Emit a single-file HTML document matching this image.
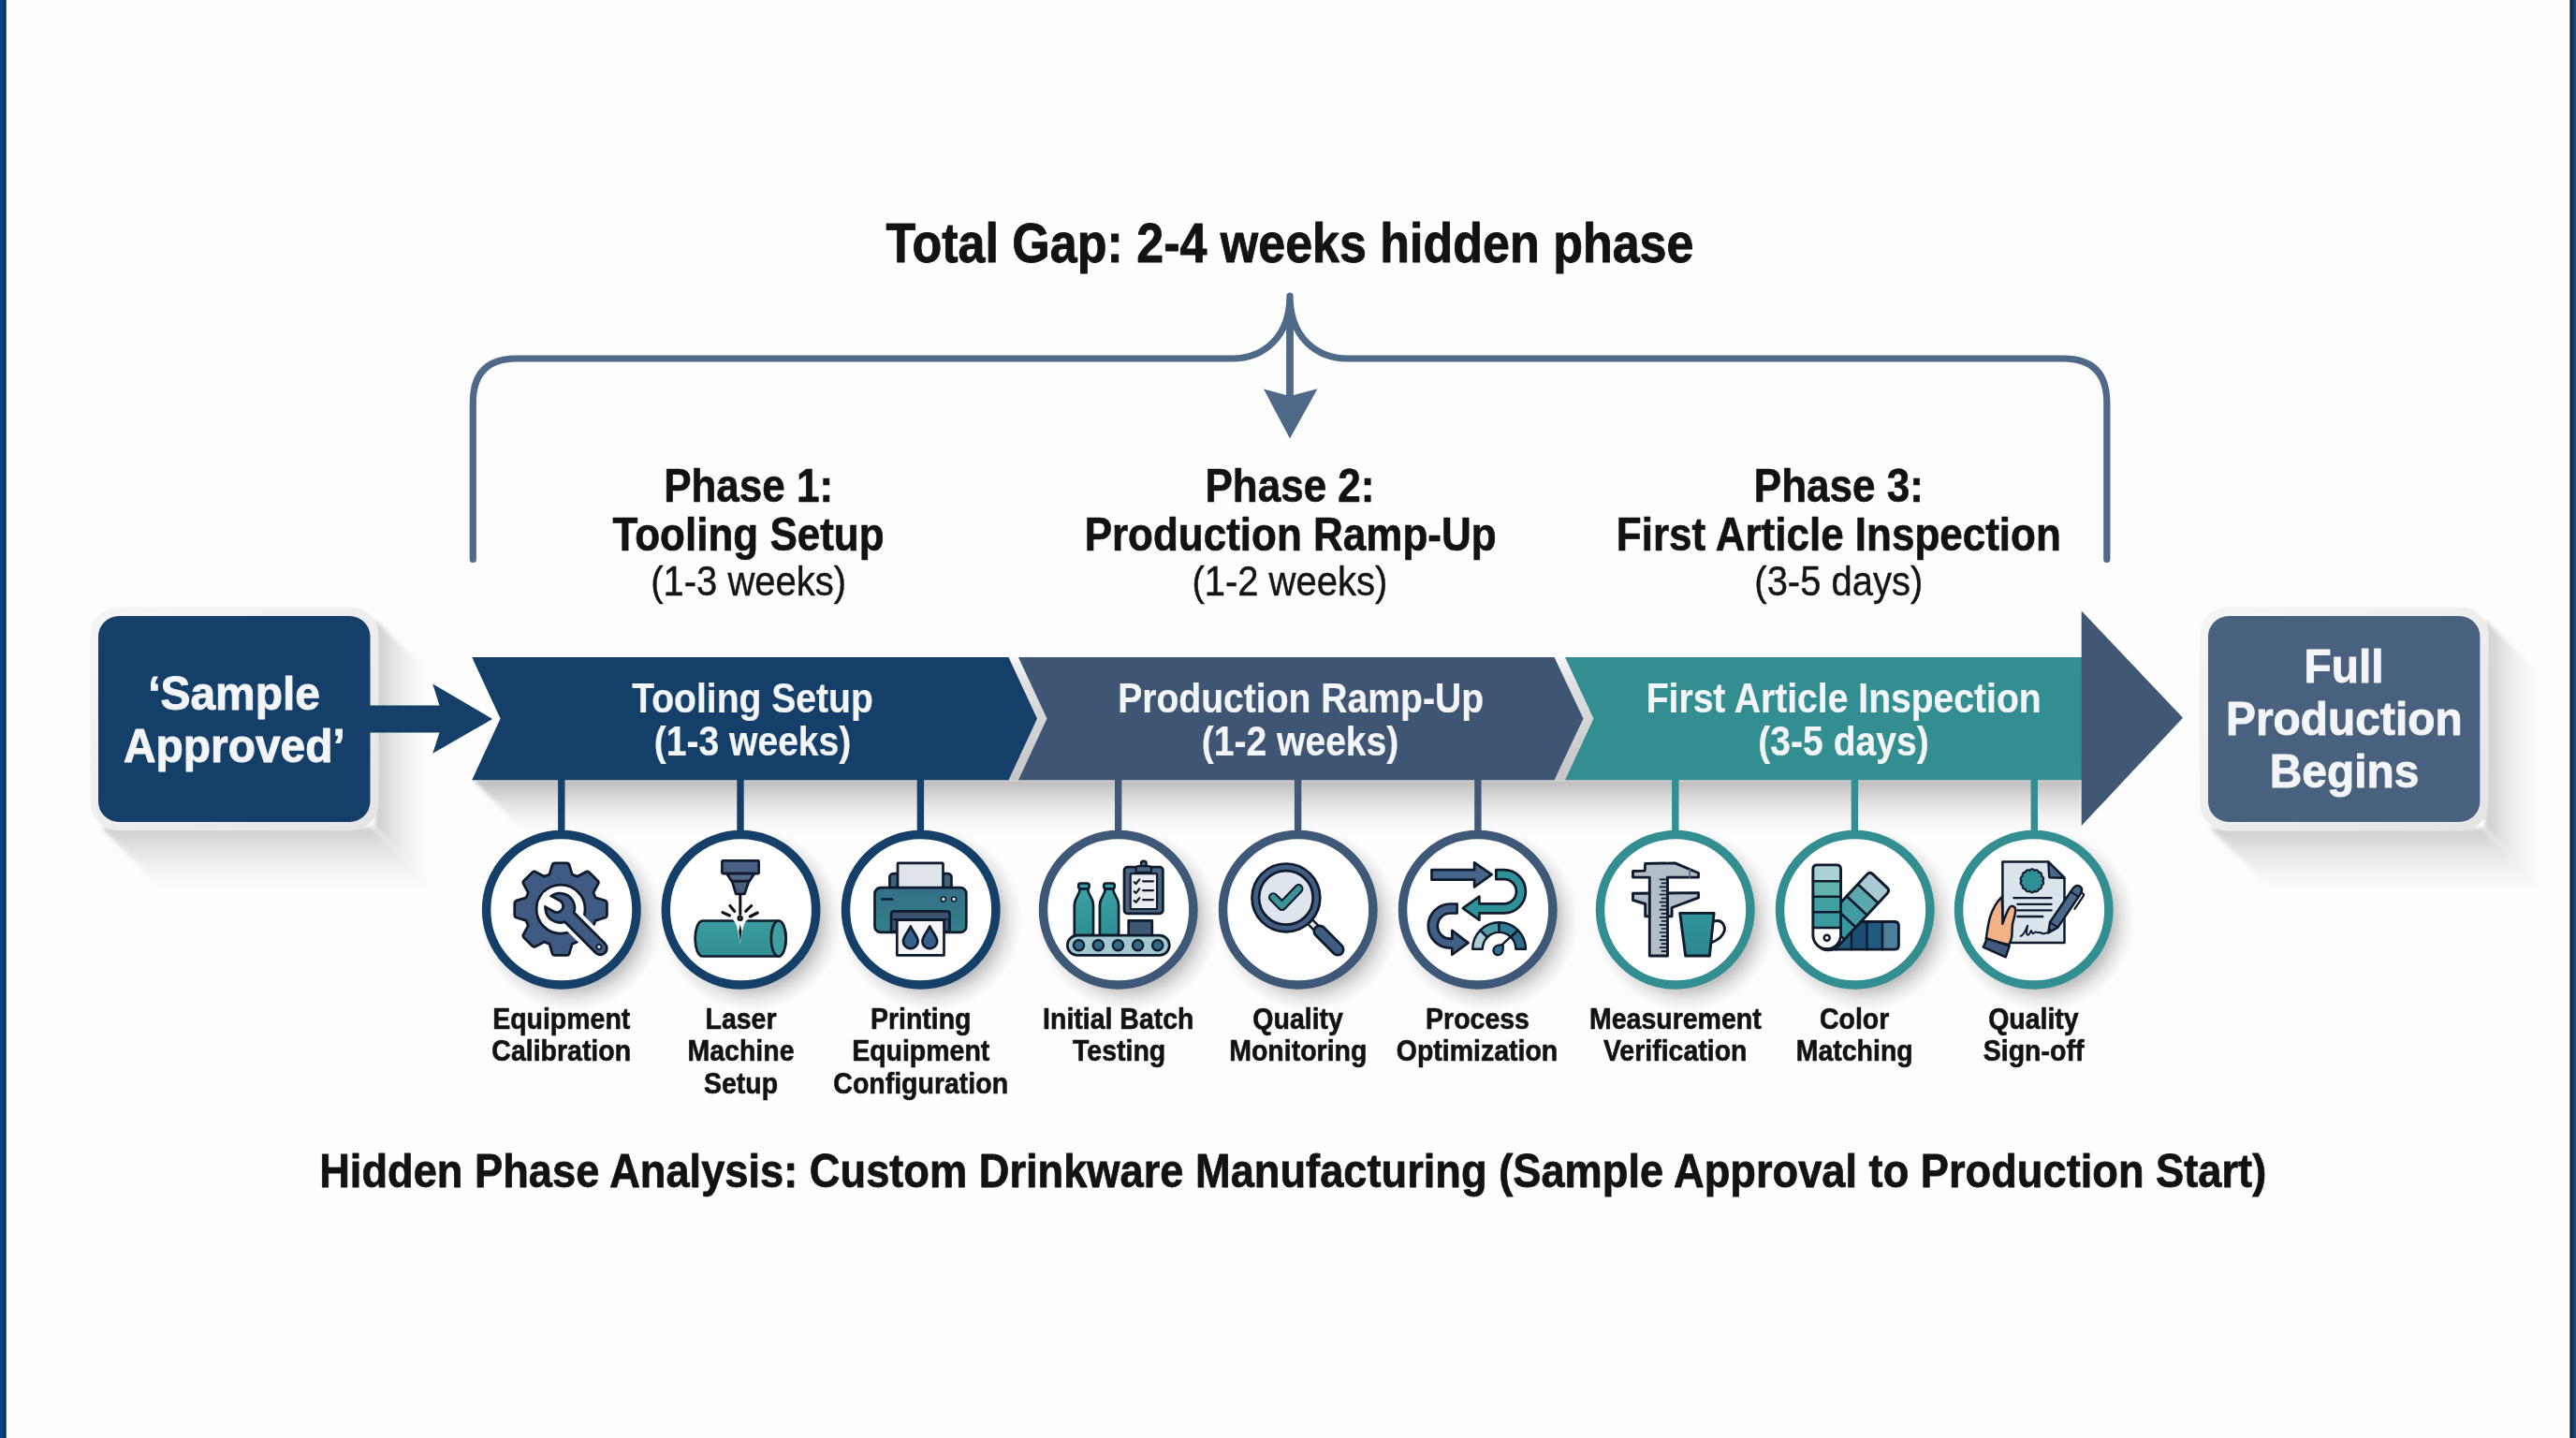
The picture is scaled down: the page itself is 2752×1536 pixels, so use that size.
<!DOCTYPE html>
<html lang="en">
<head>
<meta charset="utf-8">
<title>Hidden Phase Analysis: Custom Drinkware Manufacturing</title>
<style>
html,body{margin:0;padding:0;background:#fdfdfd;}
body{width:2752px;height:1536px;overflow:hidden;position:relative;}
svg{position:absolute;left:0;top:0;display:block;}
text{font-family:"Liberation Sans",Arial,Helvetica,sans-serif;text-anchor:middle;stroke-linejoin:round;}
#title,#phases,#labels,#caption,#leftbox,#rightbox,#chevrons{opacity:0.999;}
.bd{font-weight:700;fill:#121212;stroke:#121212;}
.rd{font-weight:400;fill:#141414;stroke:#141414;}
.bw{font-weight:700;fill:#f3f5f8;stroke:#f3f5f8;}
</style>
</head>
<body>
<svg width="2752" height="1536" viewBox="0 0 2752 1536">
<defs>
  <linearGradient id="gStripL" x1="0" x2="1" y1="0" y2="0">
    <stop offset="0" stop-color="#0a4a86"/><stop offset="0.55" stop-color="#0b3f78"/><stop offset="0.85" stop-color="#0c2a4c"/><stop offset="1" stop-color="#34506f"/>
  </linearGradient>
  <linearGradient id="gStripR" x1="0" x2="1" y1="0" y2="0">
    <stop offset="0" stop-color="#4a6483"/><stop offset="0.2" stop-color="#0b2748"/><stop offset="0.6" stop-color="#123c6b"/><stop offset="1" stop-color="#265583"/>
  </linearGradient>
  <filter id="blur2" x="-20%" y="-20%" width="140%" height="140%"><feGaussianBlur stdDeviation="2"/></filter>
  <filter id="blur4" x="-20%" y="-20%" width="140%" height="140%"><feGaussianBlur stdDeviation="4"/></filter>
  <filter id="blur8" x="-30%" y="-30%" width="160%" height="160%"><feGaussianBlur stdDeviation="8"/></filter>
</defs>

<!-- background -->
<rect x="0" y="0" width="2752" height="1536" fill="#fdfdfd"/>
<rect x="0" y="0" width="6.8" height="1536" fill="url(#gStripL)"/>
<rect x="2745.2" y="0" width="6.8" height="1536" fill="url(#gStripR)"/>

<!-- title -->
<g id="title">
<text transform="matrix(1 0 0 1.13 1378 279.5)" class="bd" font-size="52" stroke-width="0.8">Total Gap: 2-4 weeks hidden phase</text>
</g>

<!-- brace -->
<g id="brace" fill="none" stroke="#4e6a88" stroke-width="7.2" stroke-linecap="round" stroke-linejoin="round">
  <path d="M505.3 597.5 V430 Q505.3 383 552 383 H1316 C1350 383 1378 360 1378 316 C1378 360 1406 383 1440 383 H2204 Q2250.8 383 2250.8 430 V597.5"/>
  <path d="M1378 330 V424" stroke-linecap="butt" stroke-width="7.8"/>
  <path d="M1350 415.4 L1374 422 L1382 422 L1407.5 415.2 L1378 468.6 Z" fill="#4e6a88" stroke="none"/>
</g>

<!-- phase headings -->
<g id="phases">
  <text transform="matrix(1 0 0 1.13 799.6 536.3)" class="bd" font-size="44" stroke-width="0.6">Phase 1:</text>
  <text transform="matrix(1 0 0 1.13 799.6 587.9)" class="bd" font-size="44" stroke-width="0.6">Tooling Setup</text>
  <text transform="matrix(1 0 0 1.13 799.6 636.3)" class="rd" font-size="40" stroke-width="0.4">(1-3 weeks)</text>
  <text transform="matrix(1 0 0 1.13 1378 536.3)" class="bd" font-size="44" stroke-width="0.6">Phase 2:</text>
  <text transform="matrix(1 0 0 1.13 1378.6 587.9)" class="bd" font-size="44" stroke-width="0.6">Production Ramp-Up</text>
  <text transform="matrix(1 0 0 1.13 1377.8 636.3)" class="rd" font-size="40" stroke-width="0.4">(1-2 weeks)</text>
  <text transform="matrix(1 0 0 1.13 1964.3 536.3)" class="bd" font-size="44" stroke-width="0.6">Phase 3:</text>
  <text transform="matrix(1 0 0 1.13 1964.3 587.9)" class="bd" font-size="44" stroke-width="0.6">First Article Inspection</text>
  <text transform="matrix(1 0 0 1.13 1964.3 636.3)" class="rd" font-size="40" stroke-width="0.4">(3-5 days)</text>
</g>

<!-- SHADOWS -->
<defs>
  <linearGradient id="shV" x1="0" y1="0" x2="0" y2="1">
    <stop offset="0" stop-color="#000" stop-opacity="0.185"/><stop offset="0.5" stop-color="#000" stop-opacity="0.07"/><stop offset="1" stop-color="#000" stop-opacity="0"/>
  </linearGradient>
  <linearGradient id="shH" x1="0" y1="0" x2="1" y2="0">
    <stop offset="0" stop-color="#000" stop-opacity="0.185"/><stop offset="0.5" stop-color="#000" stop-opacity="0.07"/><stop offset="1" stop-color="#000" stop-opacity="0"/>
  </linearGradient>
  <linearGradient id="shBand" x1="0" y1="0" x2="0" y2="1">
    <stop offset="0" stop-color="#000" stop-opacity="0.27"/><stop offset="0.2" stop-color="#000" stop-opacity="0.185"/><stop offset="0.5" stop-color="#000" stop-opacity="0.085"/><stop offset="0.8" stop-color="#000" stop-opacity="0.02"/><stop offset="1" stop-color="#000" stop-opacity="0"/>
  </linearGradient>
  <radialGradient id="shCirc" cx="0.5" cy="0.5" r="0.5">
    <stop offset="0" stop-color="#000" stop-opacity="0.26"/><stop offset="0.74" stop-color="#000" stop-opacity="0.24"/><stop offset="0.87" stop-color="#000" stop-opacity="0.09"/><stop offset="1" stop-color="#000" stop-opacity="0"/>
  </radialGradient>
</defs>
<g id="shadows">
  <!-- left box long shadow -->
  <g filter="url(#blur2)">
    <path d="M108 884 H398 L462 948 H172 Z" fill="url(#shV)"/>
    <path d="M401 662 L455 716 V941 L401 884 Z" fill="url(#shH)"/>
  </g>
  <!-- right box long shadow -->
  <g filter="url(#blur2)">
    <path d="M2361 884.5 H2652 L2716 948.5 H2425 Z" fill="url(#shV)"/>
    <path d="M2655 662 L2709 716 V941.5 L2655 884.5 Z" fill="url(#shH)"/>
  </g>
  <!-- band shadow under chevrons -->
  <g filter="url(#blur2)">
    <path d="M505 832.5 H2224 V892 H564 Z" fill="url(#shBand)"/>
  </g>
  <!-- circle shadows -->
  <g fill="url(#shCirc)">
    <circle cx="610.3" cy="982.3" r="97"/>
    <circle cx="802.0" cy="982.3" r="97"/>
    <circle cx="994.2" cy="982.3" r="97"/>
    <circle cx="1205.2" cy="982.3" r="97"/>
    <circle cx="1397.2" cy="982.3" r="97"/>
    <circle cx="1589.2" cy="982.3" r="97"/>
    <circle cx="1800.2" cy="982.3" r="97"/>
    <circle cx="1992.2" cy="982.3" r="97"/>
    <circle cx="2183.2" cy="982.3" r="97"/>
  </g>
</g>

<!-- left box -->
<defs><linearGradient id="gBorder" x1="0" y1="0" x2="1" y2="1"><stop offset="0" stop-color="#f5f5f5"/><stop offset="0.5" stop-color="#eeeeee"/><stop offset="1" stop-color="#e4e4e4"/></linearGradient></defs>
<g id="leftbox">
  <rect x="96.5" y="648.5" width="308" height="238.5" rx="30" fill="url(#gBorder)"/>
  <rect x="105" y="658" width="290.5" height="220" rx="22" fill="#133f69"/>
  <path d="M393 753.5 H469.4 L462.3 730.6 L526.2 768 L462.3 804.7 L469.4 782.4 H393 Z" fill="#133f69"/>
  <text transform="matrix(1 0 0 1.04 250 757.6)" class="bw" font-size="47.9" stroke-width="0.9">‘Sample</text>
  <text transform="matrix(1 0 0 1.04 250.3 813.6)" class="bw" font-size="47.9" stroke-width="0.9">Approved’</text>
</g>

<!-- chevrons -->
<g id="chevrons">
  <defs><linearGradient id="gGap" x1="0" y1="0" x2="0" y2="1"><stop offset="0" stop-color="#f6f6f6"/><stop offset="0.2" stop-color="#e2e2e3"/><stop offset="0.6" stop-color="#d2d2d3"/><stop offset="1" stop-color="#c6c6c7"/></linearGradient></defs>
  <path d="M1076.5 702 H1089 L1119.5 767.6 L1089 833.3 H1076.5 L1107 767.6 Z" fill="url(#gGap)"/>
  <path d="M1659.5 702 H1673 L1703.5 767.6 L1673 833.3 H1659.5 L1690.5 767.6 Z" fill="url(#gGap)"/>
  <path d="M504.2 702 H1077.5 L1108 767.6 L1077.5 833.3 H504.2 L534.6 767.6 Z" fill="#133f69"/>
  <path d="M1088 702 H1660.5 L1691.5 767.6 L1660.5 833.3 H1088 L1118.5 767.6 Z" fill="#3e5674"/>
  <path d="M1672 702 H2224.5 V833.3 H1672 L1702.5 767.6 Z" fill="#328e90"/>
  <path d="M2223.7 652.5 L2332 766.7 L2223.7 882 Z" fill="#405873"/>
  <text transform="matrix(1 0 0 1.14 804 760.5)" class="bw" font-size="39.1" stroke-width="0.2">Tooling Setup</text>
  <text transform="matrix(1 0 0 1.14 804 807.2)" class="bw" font-size="39.1" stroke-width="0.2">(1-3 weeks)</text>
  <text transform="matrix(1 0 0 1.14 1389.6 760.5)" class="bw" font-size="39.1" stroke-width="0.2">Production Ramp-Up</text>
  <text transform="matrix(1 0 0 1.14 1389 807.2)" class="bw" font-size="39.1" stroke-width="0.2">(1-2 weeks)</text>
  <text transform="matrix(1 0 0 1.14 1969.7 760.5)" class="bw" font-size="39.1" stroke-width="0.2">First Article Inspection</text>
  <text transform="matrix(1 0 0 1.14 1969.5 807.2)" class="bw" font-size="39.1" stroke-width="0.2">(3-5 days)</text>
</g>

<!-- right box -->
<g id="rightbox">
  <rect x="2350" y="648.5" width="308.7" height="239" rx="30" fill="url(#gBorder)"/>
  <rect x="2359" y="658" width="290.4" height="220" rx="22" fill="#47617f"/>
  <text transform="matrix(1 0 0 1.055 2504 729)" class="bw" font-size="47.9" stroke-width="0.9">Full</text>
  <text transform="matrix(1 0 0 1.055 2504.4 785.1)" class="bw" font-size="47.9" stroke-width="0.9">Production</text>
  <text transform="matrix(1 0 0 1.055 2504.6 841.4)" class="bw" font-size="47.9" stroke-width="0.9">Begins</text>
</g>

<!-- connectors + circles -->
<g id="circles" fill="#ffffff" stroke-width="9.5">
  <g stroke="#133f69">
    <path d="M599.8 833 V892" stroke-width="7.4"/><circle cx="599.8" cy="971.8" r="80.2"/>
    <path d="M791 833 V892" stroke-width="7.4"/><circle cx="791.5" cy="971.8" r="80.2"/>
    <path d="M983.4 833 V892" stroke-width="7.4"/><circle cx="983.7" cy="971.8" r="80.2"/>
  </g>
  <g stroke="#3e5877">
    <path d="M1194.7 833 V892" stroke-width="7.4"/><circle cx="1194.7" cy="971.8" r="80.2"/>
    <path d="M1386.6 833 V892" stroke-width="7.4"/><circle cx="1386.7" cy="971.8" r="80.2"/>
    <path d="M1578.9 833 V892" stroke-width="7.4"/><circle cx="1578.7" cy="971.8" r="80.2"/>
  </g>
  <g stroke="#328e90">
    <path d="M1789.8 833 V892" stroke-width="7.4"/><circle cx="1789.7" cy="971.8" r="80.2"/>
    <path d="M1981.4 833 V892" stroke-width="7.4"/><circle cx="1981.7" cy="971.8" r="80.2"/>
    <path d="M2173.3 833 V892" stroke-width="7.4"/><circle cx="2172.7" cy="971.8" r="80.2"/>
  </g>
</g>

<!-- icon 1: gear + wrench -->
<g id="icon1" transform="translate(599.8 971.8)" stroke-linejoin="round" stroke-linecap="round">
  <g transform="translate(-0.7 -0.7)">
    <path d="M-12.2 -37.0 L-8.9 -47.8 Q-8.3 -49.3 -6.4 -49.3 L6.4 -49.3 Q8.3 -49.3 8.9 -47.8 L12.2 -37.0 A39.0 39.0 0 0 1 17.6 -34.8 L17.6 -34.8 L27.5 -40.1 Q29.0 -40.7 30.3 -39.4 L39.4 -30.3 Q40.7 -29.0 40.1 -27.5 L34.8 -17.6 A39.0 39.0 0 0 1 37.0 -12.2 L37.0 -12.2 L47.8 -8.9 Q49.3 -8.3 49.3 -6.4 L49.3 6.4 Q49.3 8.3 47.8 8.9 L37.0 12.2 A39.0 39.0 0 0 1 34.8 17.6 L34.8 17.6 A39.0 39.0 0 0 1 17.6 34.8 A39.0 39.0 0 0 1 12.2 37.0 L12.2 37.0 L8.9 47.8 Q8.3 49.3 6.4 49.3 L-6.4 49.3 Q-8.3 49.3 -8.9 47.8 L-12.2 37.0 A39.0 39.0 0 0 1 -17.6 34.8 L-17.6 34.8 L-27.5 40.1 Q-29.0 40.7 -30.3 39.4 L-39.4 30.3 Q-40.7 29.0 -40.1 27.5 L-34.8 17.6 A39.0 39.0 0 0 1 -37.0 12.2 L-37.0 12.2 L-47.8 8.9 Q-49.3 8.3 -49.3 6.4 L-49.3 -6.4 Q-49.3 -8.3 -47.8 -8.9 L-37.0 -12.2 A39.0 39.0 0 0 1 -34.8 -17.6 L-34.8 -17.6 L-40.1 -27.5 Q-40.7 -29.0 -39.4 -30.3 L-30.3 -39.4 Q-29.0 -40.7 -27.5 -40.1 L-17.6 -34.8 A39.0 39.0 0 0 1 -12.2 -37.0 Z" fill="#3f5b81" stroke="#0f1b2c" stroke-width="2.8"/>
    <circle r="26" fill="#fdfdfd" stroke="#0f1b2c" stroke-width="2.8"/>
    <g transform="translate(-0.8 -1.3)">
      <clipPath id="cpHead"><circle r="17"/></clipPath>
      <g transform="rotate(45)">
        <path d="M13.97 -6.95 L60.8 -6.95 A6.95 6.95 0 0 1 60.8 6.95 L13.97 6.95 A15.6 15.6 0 1 1 13.97 -6.95 Z" fill="none" stroke="#fdfdfd" stroke-width="10.4"/>
        <path d="M13.97 -6.95 L60.8 -6.95 A6.95 6.95 0 0 1 60.8 6.95 L13.97 6.95 A15.6 15.6 0 1 1 13.97 -6.95 Z" fill="#3f5b81" stroke="#0f1b2c" stroke-width="2.8"/>
        <circle cx="58.8" cy="0" r="2.5" fill="#f4f6f8" stroke="#0f1b2c" stroke-width="1.8"/>
      </g>
      <g transform="rotate(29)">
        <path d="M-23 -6.7 H-3.9 A6.7 6.7 0 0 1 -3.9 6.7 H-23 Z" fill="#fdfdfd"/>
        <path d="M-23 -6.7 H-3.9 A6.7 6.7 0 0 1 -3.9 6.7 H-23" fill="none" stroke="#0f1b2c" stroke-width="2.8" clip-path="url(#cpHead)"/>
      </g>
    </g>
  </g>
</g>

<!-- icon 2: laser + cylinder -->
<g id="icon2" transform="translate(791.7 971.7)" stroke="#0f1b2c" stroke-width="2.7" stroke-linejoin="round" stroke-linecap="round">
  <defs><linearGradient id="gCyl" x1="0" y1="0" x2="0" y2="1"><stop offset="0" stop-color="#3a9c9c"/><stop offset="1" stop-color="#2f8f93"/></linearGradient></defs>
  <path d="M-41.2 11.8 L40 11.8 A7.9 19 0 0 1 40 49.8 L-41.2 49.8 A7.9 19 0 0 1 -41.2 11.8 Z" fill="url(#gCyl)"/>
  <ellipse cx="40" cy="30.8" rx="7.9" ry="19" fill="#3f9fa0"/>
  <path d="M-9.6 10.4 C-4.6 12.5 -3.4 24 -0.9 36 C1.2 24 2.6 12.5 7.4 10.4 Z" fill="#f6fbfa" stroke="none"/>
  
  <rect x="-20.3" y="-52.3" width="39.3" height="13.7" rx="1" fill="#4a6285"/>
  <path d="M-15.5 -38.6 H14.3 L9 -30.7 H-10.2 Z" fill="#51688a"/>
  <path d="M-9.6 -30.4 H8.4 L3.7 -16.8 H-5.5 Z" fill="#485e7f"/>
  <path d="M-0.9 -15.6 V4.6" stroke="#0d0f14" stroke-width="3"/>
  <path d="M-0.9 15.6 L0.7 23 L-0.9 34.6 L-2.5 23 Z" fill="#0d0f14" stroke="none"/>
  <path d="M-11.8 -4.2 L-6.9 1.7 M-19.7 3 L-12.2 6.3 M11 -4.2 L5 1.7 M17.6 3.3 L9.6 7.3" stroke="#0d0f14" stroke-width="3.1" fill="none"/>
  <circle cx="-1" cy="9" r="2" fill="#9aa0a4" stroke="#0d0f14" stroke-width="2.4"/>
</g>

<!-- icon 3: printer -->
<g id="icon3" transform="translate(983.7 971.7)" stroke="#0f1b2c" stroke-width="2.7" stroke-linejoin="round" stroke-linecap="round">
  <defs><linearGradient id="gPr" x1="0" y1="0" x2="0" y2="1"><stop offset="0" stop-color="#356f88"/><stop offset="1" stop-color="#32808a"/></linearGradient></defs>
  <rect x="-33.3" y="-38.6" width="66.1" height="20" rx="4" fill="#3e6277"/>
  <rect x="-24.7" y="-49.8" width="48.5" height="30" rx="0.8" fill="#dfe4eb"/>
  <rect x="-49.2" y="-23.6" width="97.8" height="47.8" rx="6.5" fill="url(#gPr)"/>
  <path d="M-41.2 -11.2 H-30.5" fill="none"/>
  <circle cx="24.2" cy="-11.2" r="2.5" fill="#f2f4f6" stroke-width="1.7"/>
  <circle cx="35.4" cy="-11.2" r="2.5" fill="#f2f4f6" stroke-width="1.7"/>
  <path d="M-31.6 23.5 V4.5 Q-31.6 1.7 -28.8 1.7 H28 Q30.8 1.7 30.8 4.5 V23.5 Z" fill="#3c516e"/>
  <path d="M-29 10.3 H28" fill="none" stroke-width="2"/>
  <rect x="-25.4" y="11" width="50.2" height="37.6" fill="#f5f6f8"/>
  <path d="M-10.9 17.8 C-8.5 23.5 -3 28.5 -3 33.6 A7.9 7.9 0 0 1 -18.8 33.6 C-18.8 28.5 -13.3 23.5 -10.9 17.8 Z" fill="#35608a"/>
  <path d="M9.6 17.8 C12 23.5 17.5 28.5 17.5 33.6 A7.9 7.9 0 0 1 1.7 33.6 C1.7 28.5 7.2 23.5 9.6 17.8 Z" fill="#35608a"/>
</g>

<!-- icon 4: bottles on conveyor + checklist -->
<g id="icon4" transform="translate(1194.7 971.7)" stroke="#0f1b2c" stroke-width="2.7" stroke-linejoin="round" stroke-linecap="round">
  <defs><linearGradient id="gBot" x1="0" y1="0" x2="0" y2="1"><stop offset="0" stop-color="#3ba2a2"/><stop offset="1" stop-color="#2f8f94"/></linearGradient></defs>
  <path d="M-46.9 27.5 V-5 C-46.9 -13.5 -41.0 -15 -41.0 -22.8 H-32.6 C-32.6 -15 -26.7 -13.5 -26.7 -5 V27.5 Z" fill="url(#gBot)"/><rect x="-42.5" y="-28.2" width="11.4" height="5.8" rx="2.2" fill="#3a9fa0"/>
  <path d="M-19.8 27.5 V-5 C-19.8 -13.5 -13.9 -15 -13.9 -22.8 H-5.5 C-5.5 -15 0.4 -13.5 0.4 -5 V27.5 Z" fill="url(#gBot)"/><rect x="-15.4" y="-28.2" width="11.4" height="5.8" rx="2.2" fill="#3a9fa0"/>
  <rect x="11" y="11.6" width="25.1" height="16.5" fill="#3f5876"/>
  <rect x="6.3" y="-45.6" width="41.4" height="49.7" rx="3.6" fill="#4a6580"/>
  <rect x="13" y="-38.6" width="28.4" height="37.9" rx="0.8" fill="#e9edf1" stroke-width="2.2"/>
  <circle cx="27.1" cy="-49" r="3" fill="#4a6580" stroke-width="2.2"/>
  <path d="M18.9 -39.8 V-43.5 Q18.9 -46.6 22 -46.6 H32.2 Q35.3 -46.6 35.3 -43.5 V-39.8 Z" fill="#4a6580" stroke-width="2.2"/>
  <path d="M17 -29.4 l1.9 1.7 l3.7 -4.6 M26.4 -30.4 H37.2" fill="none" stroke-width="2.2"/><path d="M17 -19.5 l1.9 1.7 l3.7 -4.6 M26.4 -20.5 H37.2" fill="none" stroke-width="2.2"/><path d="M17 -9.6 l1.9 1.7 l3.7 -4.6 M26.4 -10.6 H37.2" fill="none" stroke-width="2.2"/>
  <rect x="-54.4" y="27.5" width="109" height="21.1" rx="10.55" fill="#a2c8cf"/>
  <g fill="#2f6a8b" stroke-width="2.4"><circle cx="-42.2" cy="38" r="5.6"/><circle cx="-21.4" cy="38" r="5.6"/><circle cx="-0.3" cy="38" r="5.6"/><circle cx="20.9" cy="38" r="5.6"/><circle cx="42" cy="38" r="5.6"/></g>
</g>

<!-- icon 5: magnifier with check -->
<g id="icon5" transform="translate(1386.7 971.7)" stroke="#0f1b2c" stroke-width="2.7" stroke-linejoin="round" stroke-linecap="round">
  <g transform="translate(-12.8 -12.8) rotate(45)">
    <rect x="36.5" y="-3.4" width="10" height="6.8" fill="#e6eaef" stroke-width="2.3"/>
    <rect x="44.8" y="-6" width="39.4" height="12" rx="6" fill="#3f5e82"/>
  </g>
  <circle cx="-12.8" cy="-12.8" r="36.4" fill="#3f5e82"/>
  <circle cx="-12.8" cy="-12.8" r="28.8" fill="#dfe5ec"/>
  <path d="M-26.5 -13.3 L-17.1 -3.9 L0.6 -22.4" fill="none" stroke="#0f1b2c" stroke-width="10.4"/>
  <path d="M-26.5 -13.3 L-17.1 -3.9 L0.6 -22.4" fill="none" stroke="#3a939a" stroke-width="6.2"/>
</g>

<!-- icon 6: process arrows + gauge -->
<g id="icon6" transform="translate(1578.7 971.7)" stroke="#0f1b2c" stroke-width="2.7" stroke-linejoin="round" stroke-linecap="round">
  <path d="M-49.2 -42.5 H-3.6 V-50.3 L14.9 -37.5 L-3.6 -24.2 V-32 H-49.2 Z" fill="#46658b"/>
  <path d="M19.6 -42.5 H28.1 A23.1 23.1 0 0 1 28.1 3.7 H1.7 V11 L-15.9 -1.5 L1.7 -14.1 V-6.3 H28.1 A13.1 13.1 0 0 0 28.1 -32.5 H19.6 Z" fill="#2f9198"/>
  <path d="M-22.1 -6.2 H-29.3 A23.6 23.6 0 0 0 -29.3 41 H-27.4 V48 L-10.2 35.4 L-27.4 22.2 V31 H-29.3 A13.6 13.6 0 0 1 -29.3 3.8 H-22.1 Z" fill="#3f5f85"/>
  <path d="M-5.5 42.0 A28.4 28.4 0 0 1 2.8 21.9 L10.3 29.4 A17.8 17.8 0 0 0 5.1 42.0 Z" fill="#a9ced5" stroke-width="2.4"/><path d="M2.8 21.9 A28.4 28.4 0 0 1 22.9 13.6 L22.9 24.2 A17.8 17.8 0 0 0 10.3 29.4 Z" fill="#4c9ca8" stroke-width="2.4"/><path d="M22.9 13.6 A28.4 28.4 0 0 1 43.0 21.9 L35.5 29.4 A17.8 17.8 0 0 0 22.9 24.2 Z" fill="#2f7a95" stroke-width="2.4"/><path d="M43.0 21.9 A28.4 28.4 0 0 1 51.3 42.0 L40.7 42.0 A17.8 17.8 0 0 0 35.5 29.4 Z" fill="#2f6b8c" stroke-width="2.4"/>
  <path d="M37.6 26.6 L24.6 38.6" fill="none" stroke-width="2.4"/>
  <path d="M27 38 C24.5 37.6 21.5 37.4 19 39.2 A5 5 0 1 0 26.2 45.6 C27.4 43.4 27.2 40.4 27 38 Z" fill="#2f7190" stroke-width="2.2"/>
</g>

<!-- icon 7: caliper + mug -->
<g id="icon7" transform="translate(1789.7 971.7)" stroke="#0f1b2c" stroke-width="2.9" stroke-linejoin="round" stroke-linecap="round">
  <defs><linearGradient id="gMug" x1="0" y1="0" x2="0" y2="1"><stop offset="0" stop-color="#31949b"/><stop offset="1" stop-color="#2a878f"/></linearGradient></defs>
  <path d="M-45.2 -17.4 L24.8 -18.1 V-12.8 L-3.6 -2.2 V7 H-32 V-6.2 L-45.2 -10.2 Z" fill="#b3bec7"/>
  <path d="M-45.2 -41.2 L-32.6 -41.6 L-32 -49.3 L-0.3 -49.8 L24.8 -39.2 V-34.6 H-8.2 V49.3 H-27.4 V-34.6 H-45.2 Z" fill="#b3bec7"/>
  <path d="M15.5 -42.8 V-35" fill="none" stroke-width="1.8" stroke="#5b6a78"/>
  <path d="M-16.2 -32.4 H-9.6 M-14.2 -28.3 H-9.6 M-16.2 -24.3 H-9.6 M-14.2 -20.2 H-9.6 M-16.2 -16.2 H-9.6 M-14.2 -12.1 H-9.6 M-16.2 -8.1 H-9.6 M-14.2 -4.0 H-9.6 M-16.2 0.0 H-9.6 M-14.2 4.1 H-9.6 M-16.2 8.1 H-9.6 M-14.2 12.2 H-9.6 M-16.2 16.2 H-9.6 M-14.2 20.3 H-9.6 M-16.2 24.3 H-9.6 M-14.2 28.4 H-9.6 M-16.2 32.4 H-9.6 M-14.2 36.5 H-9.6 M-16.2 40.5 H-9.6 M-14.2 44.5 H-9.6 " fill="none" stroke-width="1.7"/>
  <path d="M40.6 12.5 C51 9.2 55.5 19 50.6 26.6 C47.6 31.2 43 33.4 39 35" fill="none"/>
  <path d="M5 3.7 H41.4 L36.7 49.3 H11 Z" fill="url(#gMug)"/>
</g>

<!-- icon 8: colour swatches -->
<g id="icon8" transform="translate(1981.7 971.7)" stroke="#0f1b2c" stroke-width="2.9" stroke-linejoin="round" stroke-linecap="round">
  <g transform="translate(-31.2 27.6) rotate(90)"><clipPath id="cs1"><path d="M-14.85 -73.4 Q-14.85 -77.9 -10.35 -77.9 H10.35 Q14.85 -77.9 14.85 -73.4 V-3.1 A14.85 14.85 0 0 1 -14.85 -3.1 Z"/></clipPath><g clip-path="url(#cs1)" stroke="none"><rect x="-16" y="-78.5" width="32" height="18.3" fill="#4b7f9d"/><rect x="-16" y="-60.5" width="32" height="16.8" fill="#1f5a81"/><rect x="-16" y="-44.0" width="32" height="16.8" fill="#1a4f73"/><rect x="-16" y="-27.5" width="32" height="16.9" fill="#1f5b7b"/><rect x="-16" y="-10.9" width="32" height="24.2" fill="#fbfcfc"/></g><path d="M-14.85 -73.4 Q-14.85 -77.9 -10.35 -77.9 H10.35 Q14.85 -77.9 14.85 -73.4 V-3.1 A14.85 14.85 0 0 1 -14.85 -3.1 Z" fill="none"/><path d="M-14.85 -60.5 H14.85 M-14.85 -44 H14.85 M-14.85 -27.5 H14.85 M-14.85 -10.9 H14.85" fill="none" stroke-width="2.5"/></g>
  <g transform="translate(-30 30.1) rotate(43) scale(1 1.068)"><clipPath id="cs2"><path d="M-14.85 -73.4 Q-14.85 -77.9 -10.35 -77.9 H10.35 Q14.85 -77.9 14.85 -73.4 V-3.1 A14.85 14.85 0 0 1 -14.85 -3.1 Z"/></clipPath><g clip-path="url(#cs2)" stroke="none"><rect x="-16" y="-78.5" width="32" height="18.3" fill="#aacbd5"/><rect x="-16" y="-60.5" width="32" height="16.8" fill="#5ba8ad"/><rect x="-16" y="-44.0" width="32" height="16.8" fill="#419ca2"/><rect x="-16" y="-27.5" width="32" height="16.9" fill="#3a969e"/><rect x="-16" y="-10.9" width="32" height="24.2" fill="#fbfcfc"/></g><path d="M-14.85 -73.4 Q-14.85 -77.9 -10.35 -77.9 H10.35 Q14.85 -77.9 14.85 -73.4 V-3.1 A14.85 14.85 0 0 1 -14.85 -3.1 Z" fill="none"/><path d="M-14.85 -60.5 H14.85 M-14.85 -44 H14.85 M-14.85 -27.5 H14.85 M-14.85 -10.9 H14.85" fill="none" stroke-width="2.5"/></g>
  <g transform="translate(-30 30.1) rotate(0)"><clipPath id="cs3"><path d="M-14.85 -73.4 Q-14.85 -77.9 -10.35 -77.9 H10.35 Q14.85 -77.9 14.85 -73.4 V-3.1 A14.85 14.85 0 0 1 -14.85 -3.1 Z"/></clipPath><g clip-path="url(#cs3)" stroke="none"><rect x="-16" y="-78.5" width="32" height="18.3" fill="#aad1d6"/><rect x="-16" y="-60.5" width="32" height="16.8" fill="#63b2b2"/><rect x="-16" y="-44.0" width="32" height="16.8" fill="#41a0a2"/><rect x="-16" y="-27.5" width="32" height="16.9" fill="#3a9a9d"/><rect x="-16" y="-10.9" width="32" height="24.2" fill="#fbfcfc"/></g><path d="M-14.85 -73.4 Q-14.85 -77.9 -10.35 -77.9 H10.35 Q14.85 -77.9 14.85 -73.4 V-3.1 A14.85 14.85 0 0 1 -14.85 -3.1 Z" fill="none"/><path d="M-14.85 -60.5 H14.85 M-14.85 -44 H14.85 M-14.85 -27.5 H14.85 M-14.85 -10.9 H14.85" fill="none" stroke-width="2.5"/><circle cx="0" cy="0" r="3" fill="#fbfcfc" stroke-width="2.5"/></g>
</g>

<!-- icon 9: document, hand, pen -->
<g id="icon9" transform="translate(2172.7 971.7)" stroke="#0f1b2c" stroke-width="2.5" stroke-linejoin="round" stroke-linecap="round">
  <path d="M-33.3 -51.1 H15.6 L32.8 -34 V35.4 H-33.3 Z" fill="#dbe4ea"/>
  <path d="M15.6 -51.1 L32.8 -34 L16.6 -34.4 Z" fill="#4a6a8c" stroke-width="2.4"/>
  <path d="M9.4 -30.9 A2.7 2.7 0 0 1 8.3 -26.0 A2.7 2.7 0 0 1 5.2 -22.1 A2.7 2.7 0 0 1 0.7 -20.0 A2.7 2.7 0 0 1 -4.3 -20.0 A2.7 2.7 0 0 1 -8.8 -22.1 A2.7 2.7 0 0 1 -11.9 -26.0 A2.7 2.7 0 0 1 -13.0 -30.9 A2.7 2.7 0 0 1 -11.9 -35.8 A2.7 2.7 0 0 1 -8.8 -39.7 A2.7 2.7 0 0 1 -4.3 -41.8 A2.7 2.7 0 0 1 0.7 -41.8 A2.7 2.7 0 0 1 5.2 -39.7 A2.7 2.7 0 0 1 8.3 -35.8 A2.7 2.7 0 0 1 9.4 -30.9 Z" fill="#2e8f96" stroke-width="2"/>
  <path d="M-21.4 -12.6 H18.9 M-17.4 -5.9 H18.9 M-17.4 0.7 H18.9 M-17.4 7.3 H9.6" fill="none" stroke-width="2.3"/>
  <path d="M-14 28.2 C-10.5 27 -8 20.5 -6.6 17 C-7.4 21.5 -8.6 27 -6.2 27 C-4.2 27 -3.6 22.4 -2.6 22.4 C-1.8 24 -1.6 26 0 25.2 C1.4 24.4 1.8 23.2 3 24 C4 24.8 5 24.6 6 24.4 C8 24.2 9 26 11 25.6 L14.6 24.6" fill="none" stroke-width="2"/>
  <g transform="translate(15.6 24.8) rotate(-55.8)">
    <path d="M37 8.8 H53.5 Q55.5 8.8 55.5 6.8 V4" fill="none" stroke-width="2.2"/>
    <path d="M0 0 L10.5 -5 H53 Q60 -5 60 0 Q60 5 53 5 H10.5 Z" fill="#4a6a8c"/>
    <path d="M10.5 -5 V5 M50 -5 V5" fill="none" stroke-width="2"/>
    <path d="M0 0 L4.2 -2 V2 Z" fill="#0f1b2c" stroke-width="1"/>
  </g>
  <path d="M-51 31.6 C-49.6 22 -48.5 13 -46.2 6.5 C-44 0 -40.5 -7.5 -34.2 -13.6 C-33.2 -5 -33.4 6 -33.3 15 C-31.2 9 -29 2.6 -26.2 -1.8 C-24.4 -4.8 -20.4 -4.6 -19.6 -0.6 C-19 4 -21.6 9.6 -22.6 15 C-23.4 20 -23 24.4 -23.4 28.2 C-23.8 32 -25 35 -26.6 37.6 Z" fill="#f3b185"/>
  <path d="M-49.8 30.8 L-26 38.7 L-30 50.6 L-54 40 Z" fill="#3f5a7c"/>
</g>

<!-- labels -->
<g id="labels">
  <text transform="matrix(1 0 0 1.13 599.7 1099)" class="bd" font-size="28.5" stroke-width="0.55">Equipment</text>
  <text transform="matrix(1 0 0 1.13 599.7 1133.4)" class="bd" font-size="28.5" stroke-width="0.55">Calibration</text>
  <text transform="matrix(1 0 0 1.13 791.5 1099)" class="bd" font-size="28.5" stroke-width="0.55">Laser</text>
  <text transform="matrix(1 0 0 1.13 791.5 1133.4)" class="bd" font-size="28.5" stroke-width="0.55">Machine</text>
  <text transform="matrix(1 0 0 1.13 791.5 1167.6)" class="bd" font-size="28.5" stroke-width="0.55">Setup</text>
  <text transform="matrix(1 0 0 1.13 983.7 1099)" class="bd" font-size="28.5" stroke-width="0.55">Printing</text>
  <text transform="matrix(1 0 0 1.13 983.7 1133.4)" class="bd" font-size="28.5" stroke-width="0.55">Equipment</text>
  <text transform="matrix(1 0 0 1.13 983.7 1167.6)" class="bd" font-size="28.5" stroke-width="0.55">Configuration</text>
  <text transform="matrix(1 0 0 1.13 1194.8 1099)" class="bd" font-size="28.5" stroke-width="0.55">Initial Batch</text>
  <text transform="matrix(1 0 0 1.13 1195.6 1133.4)" class="bd" font-size="28.5" stroke-width="0.55">Testing</text>
  <text transform="matrix(1 0 0 1.13 1386.6 1099)" class="bd" font-size="28.5" stroke-width="0.55">Quality</text>
  <text transform="matrix(1 0 0 1.13 1386.8 1133.4)" class="bd" font-size="28.5" stroke-width="0.55">Monitoring</text>
  <text transform="matrix(1 0 0 1.13 1578.5 1099)" class="bd" font-size="28.5" stroke-width="0.55">Process</text>
  <text transform="matrix(1 0 0 1.13 1578 1133.4)" class="bd" font-size="28.5" stroke-width="0.55">Optimization</text>
  <text transform="matrix(1 0 0 1.13 1789.8 1099)" class="bd" font-size="28.5" stroke-width="0.55">Measurement</text>
  <text transform="matrix(1 0 0 1.13 1789.7 1133.4)" class="bd" font-size="28.5" stroke-width="0.55">Verification</text>
  <text transform="matrix(1 0 0 1.13 1981.1 1099)" class="bd" font-size="28.5" stroke-width="0.55">Color</text>
  <text transform="matrix(1 0 0 1.13 1981.2 1133.4)" class="bd" font-size="28.5" stroke-width="0.55">Matching</text>
  <text transform="matrix(1 0 0 1.13 2172.4 1099)" class="bd" font-size="28.5" stroke-width="0.55">Quality</text>
  <text transform="matrix(1 0 0 1.13 2172.6 1133.4)" class="bd" font-size="28.5" stroke-width="0.55">Sign-off</text>
</g>

<!-- caption -->
<g id="caption">
<text transform="matrix(1 0 0 1.108 1381.2 1268)" class="bd" font-size="45.24" stroke-width="0.7">Hidden Phase Analysis: Custom Drinkware Manufacturing (Sample Approval to Production Start)</text>
</g>
</svg>
</body>
</html>
